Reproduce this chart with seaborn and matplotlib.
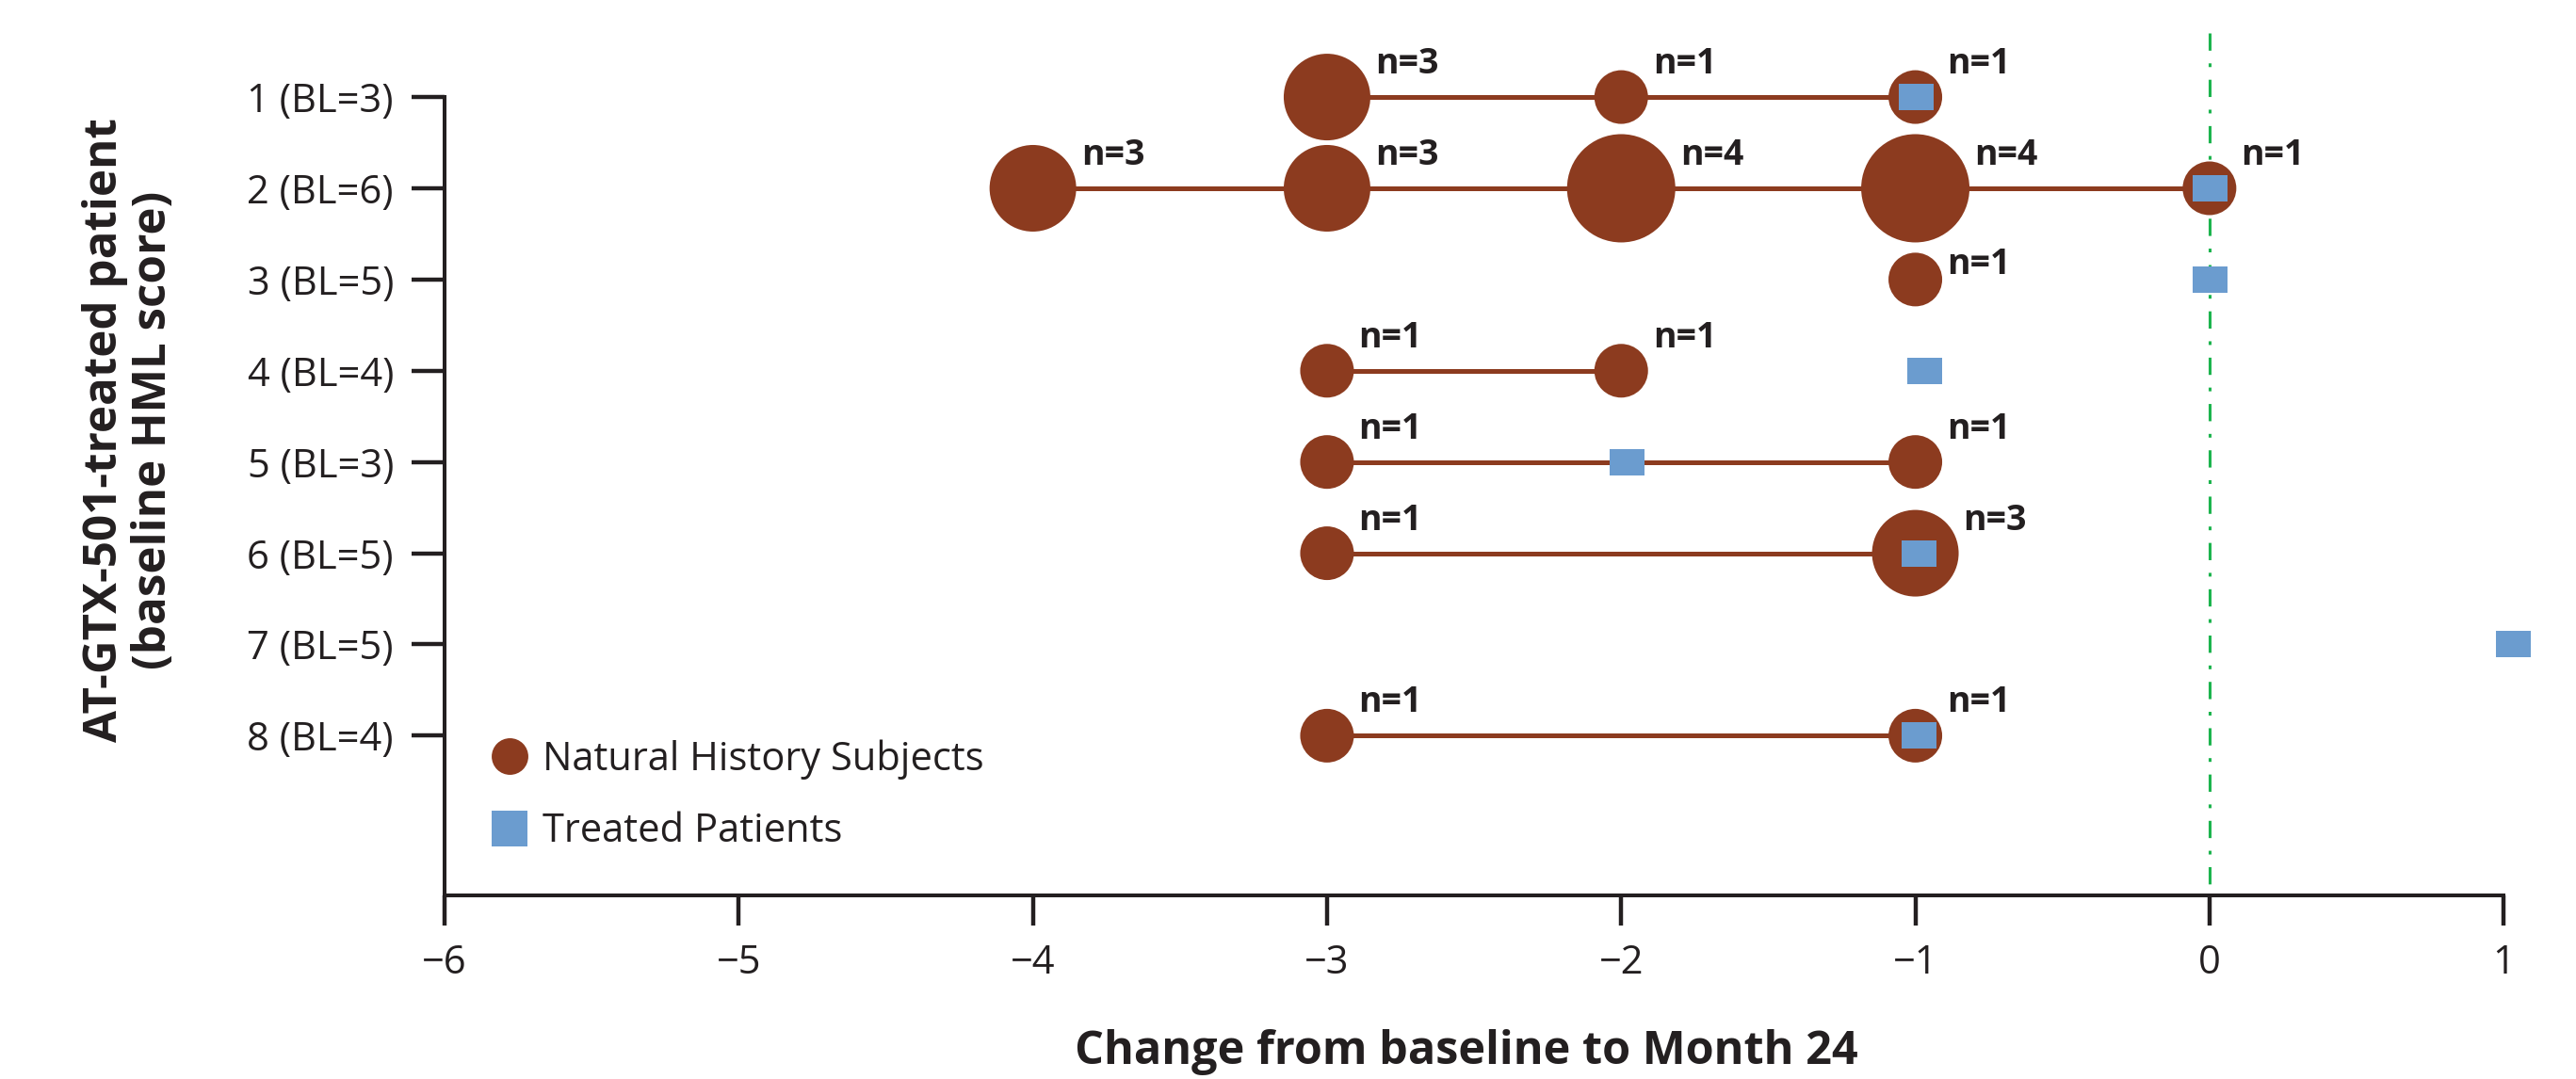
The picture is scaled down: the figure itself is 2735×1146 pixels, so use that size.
import numpy as np
import pandas as pd
import matplotlib
matplotlib.use("Agg")
import matplotlib.pyplot as plt
from matplotlib.lines import Line2D
import seaborn as sns

# rows (treated patients) and their tick labels
rows = [1, 2, 3, 4, 5, 6, 7, 8]
row_labels = ["1 (BL=3)", "2 (BL=6)", "3 (BL=5)", "4 (BL=4)",
              "5 (BL=3)", "6 (BL=5)", "7 (BL=5)", "8 (BL=4)"]

# natural history subjects matched to each treated patient
nh_row = [1, 1, 1, 2, 2, 2, 2, 2, 3, 4, 4, 5, 5, 6, 6, 8, 8]
nh_change = [-3, -2, -1, -4, -3, -2, -1, 0, -1, -3, -2, -3, -1, -3, -1, -3, -1]
nh_n = [3, 1, 1, 3, 3, 4, 4, 1, 1, 1, 1, 1, 1, 1, 3, 1, 1]

# treated patients
tr_row = [1, 2, 3, 4, 5, 6, 7, 8]
tr_change = [-1.0, 0.0, 0.0, -0.97, -1.98, -0.99, 1.03, -0.99]

x_ticks = [-6, -5, -4, -3, -2, -1, 0, 1]

BROWN = "#8C3B1F"
BLUE = "#6B9CCF"
GREEN = "#1DB44E"
INK = "#231F20"

sns.set_theme(style="ticks")
plt.rcParams["font.family"] = ["Open Sans", "DejaVu Sans"]
plt.rcParams["text.color"] = INK
plt.rcParams["axes.labelcolor"] = INK
plt.rcParams["xtick.color"] = INK
plt.rcParams["ytick.color"] = INK

nh = pd.DataFrame({"row": nh_row, "change": nh_change, "n": nh_n})
tr = pd.DataFrame({"row": tr_row, "change": tr_change})

fig = plt.figure(figsize=(27.35, 11.46), dpi=100)
ax = fig.add_axes([0.1726, 0.1702, 0.7993, 0.8075])

# diameter in pixels for each n -> marker area in pt^2
diam_px = {1: 57, 3: 92, 4: 115}
sizes = {k: (v * 0.72) ** 2 for k, v in diam_px.items()}

# green reference line at 0
ax.vlines(0, 0.3, 9.75, color=GREEN, lw=2.2, linestyles=[(0, (6, 4.4, 1.3, 4.4))],
          zorder=1, clip_on=False)

# connecting lines per row
sns.lineplot(data=nh, x="change", y="row", units="row", estimator=None,
             color=BROWN, lw=3.6, sort=True, ax=ax, zorder=2, legend=False)

sns.scatterplot(data=nh, x="change", y="row", size="n", sizes=sizes,
                color=BROWN, linewidth=0, legend=False, ax=ax, zorder=3)

rect = [(-1, -0.757), (1, -0.757), (1, 0.757), (-1, 0.757), (-1, -0.757)]
sns.scatterplot(data=tr, x="change", y="row", marker=rect, s=(37 * 0.72) ** 2,
                color=BLUE, linewidth=0, legend=False, ax=ax, zorder=4, clip_on=False)

# n= labels
for _, r in nh.iterrows():
    rad = diam_px[r["n"]] / 2
    lift = 16 if r["row"] == 3 else 35
    ax.annotate(f"n={r['n']}", (r["change"], r["row"]), textcoords="offset points",
                xytext=((rad + 5) * 0.72, lift * 0.72), ha="left", va="center",
                fontsize=27, fontweight="bold", color=INK, zorder=5)

ax.set_xlim(-6, 1)
ax.set_ylim(9.75, 0.2)
ax.set_xticks(x_ticks)
ax.set_yticks(rows)
ax.set_yticklabels(row_labels)
ax.tick_params(axis="x", length=23, width=3.2, pad=14, labelsize=30)
ax.tick_params(axis="y", length=25, width=3.2, pad=14, labelsize=30)

sns.despine(ax=ax)
for s in ["left", "bottom"]:
    ax.spines[s].set_linewidth(2.9)
    ax.spines[s].set_color(INK)
ax.spines["left"].set_bounds(1, 9.75)

ax.set_xlabel("Change from baseline to Month 24", fontsize=35, fontweight="bold")
ax.set_ylabel("AT-GTX-501-treated patient\n(baseline HML score)", fontsize=35.5,
              fontweight="bold", linespacing=1.1)
ax.xaxis.label.set_va("center")
ax.yaxis.label.set_va("center")
ax.xaxis.set_label_coords(0.496, -0.18)
ax.yaxis.set_label_coords(-0.153, 0.534)

handles = [
    Line2D([], [], ls="none", marker="o", markersize=28, color=BROWN, mew=0),
    Line2D([], [], ls="none", marker="s", markersize=27, color=BLUE, mew=0),
]
ax.legend(handles, ["Natural History Subjects", "Treated Patients"],
          loc="upper left", bbox_to_anchor=(0.0146, 0.197), frameon=False,
          fontsize=30, handlelength=1.0, handletextpad=0.32, labelspacing=0.83,
          borderaxespad=0)

fig.savefig("out.png", dpi=100)
